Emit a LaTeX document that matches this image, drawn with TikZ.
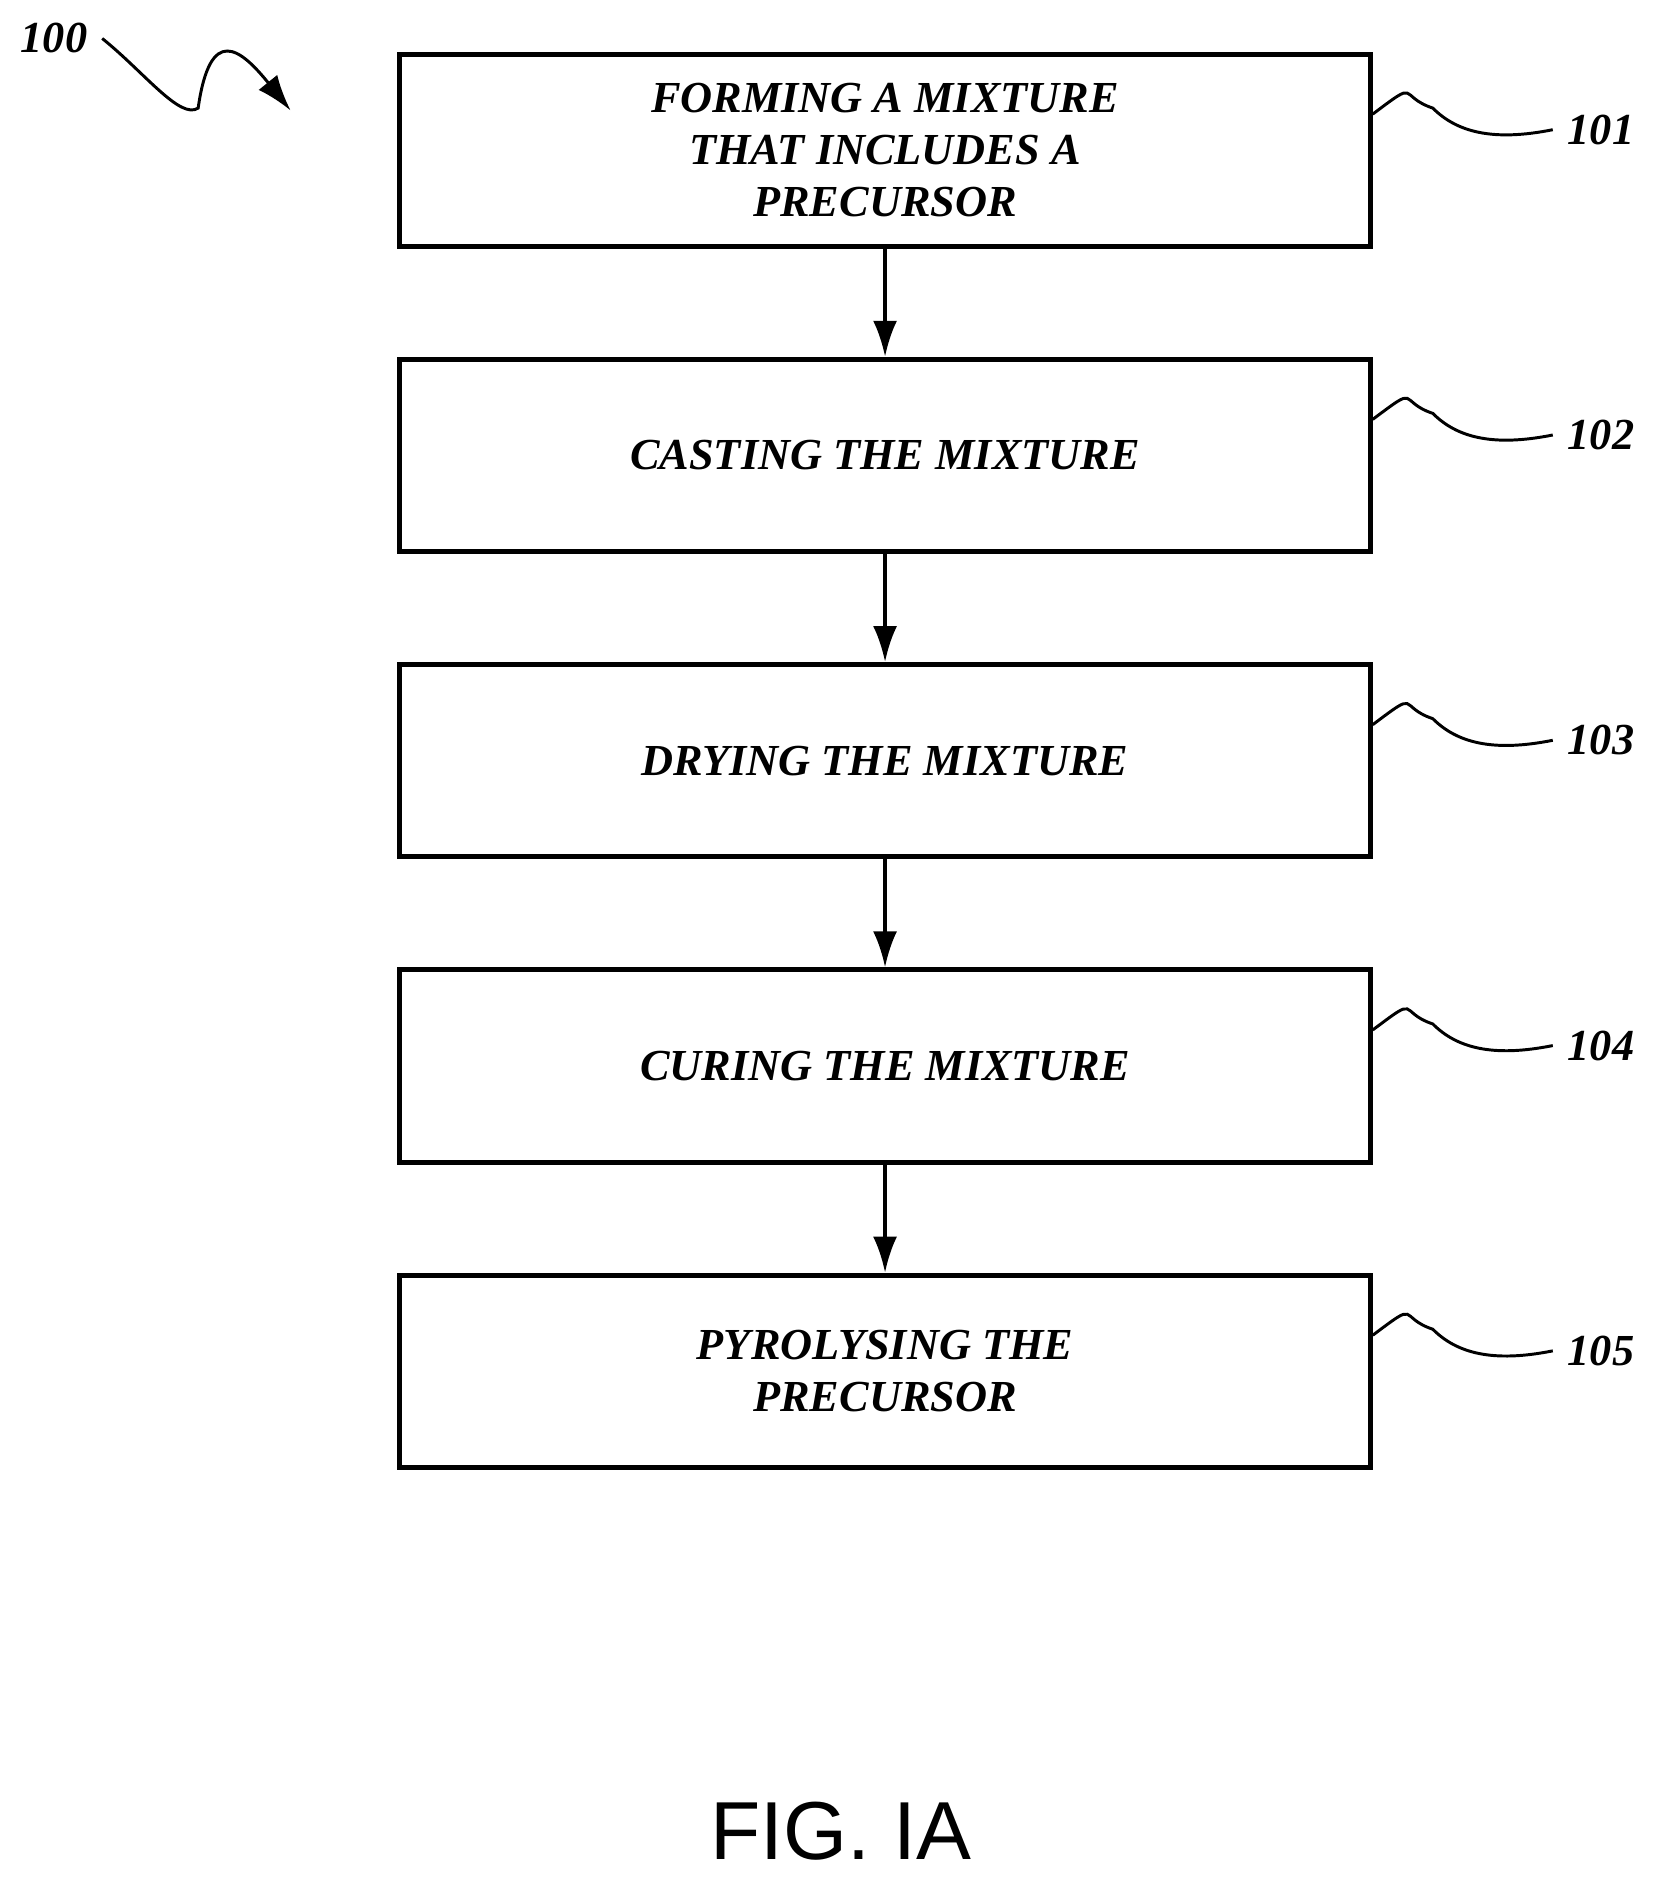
\documentclass[tikz,border=0pt]{standalone}
\usepackage{fontspec}
\setmainfont{Liberation Serif}
\setsansfont{Liberation Sans}
\usetikzlibrary{positioning,arrows.meta}
\tikzset{
    stepbox/.style={draw, line width=1.2pt, minimum width=8.08cm, minimum height=1.6cm,
        align=center, font=\fontsize{10.5}{12.3}\selectfont\bfseries\itshape},
    ref/.style={font=\fontsize{10.5}{12}\selectfont\bfseries\itshape},
    flow/.style={-{Latex[length=3mm,width=2mm]}, line width=0.9pt},
    squig/.style={line width=0.7pt}
}
\begin{document}
\begin{tikzpicture}[x=1cm,y=1cm]
    \useasboundingbox (0,0) rectangle (13.85,-15.78);

    \node[stepbox] (s1) at (7.37,-1.25) {FORMING A MIXTURE\\THAT INCLUDES A\\PRECURSOR};
    \node[stepbox, below=0.90cm of s1] (s2) {CASTING THE MIXTURE};
    \node[stepbox, below=0.90cm of s2] (s3) {DRYING THE MIXTURE};
    \node[stepbox, below=0.90cm of s3] (s4) {CURING THE MIXTURE};
    \node[stepbox, below=0.90cm of s4] (s5) {PYROLYSING THE\\PRECURSOR};

    \foreach \a / \b in {s1/s2, s2/s3, s3/s4, s4/s5}
        \draw[flow] (\a) -- (\b);

    % reference numerals
    \foreach \s / \n in {s1/101, s2/102, s3/103, s4/104, s5/105} {
        \node[ref] (r\n) at ([xshift=1.9cm, yshift=0.17cm]\s.east) {\n};
        \draw[squig] ([yshift=0.3cm]\s.east) .. controls +(0.4,0.3) and +(-0.3,0.1) .. +(0.5,0.05)
            .. controls +(0.2,-0.2) and +(-0.5,-0.1) .. (r\n.west);
    }

    \node[ref] (r100) at (0.45,-0.32) {100};
    \coordinate (a100) at (2.42,-0.92);
    \draw[squig, -{Latex[length=3mm,width=2mm]}] (r100.east) .. controls (1.2,-0.6) and (1.5,-1.0) .. (1.65,-0.9)
        .. controls (1.75,-0.2) and (2.0,-0.4) .. (a100);

    \node[font=\sffamily\fontsize{19.5}{22}\selectfont] (fig) at (7.0,-15.25) {FIG. IA};
\end{tikzpicture}
\end{document}
